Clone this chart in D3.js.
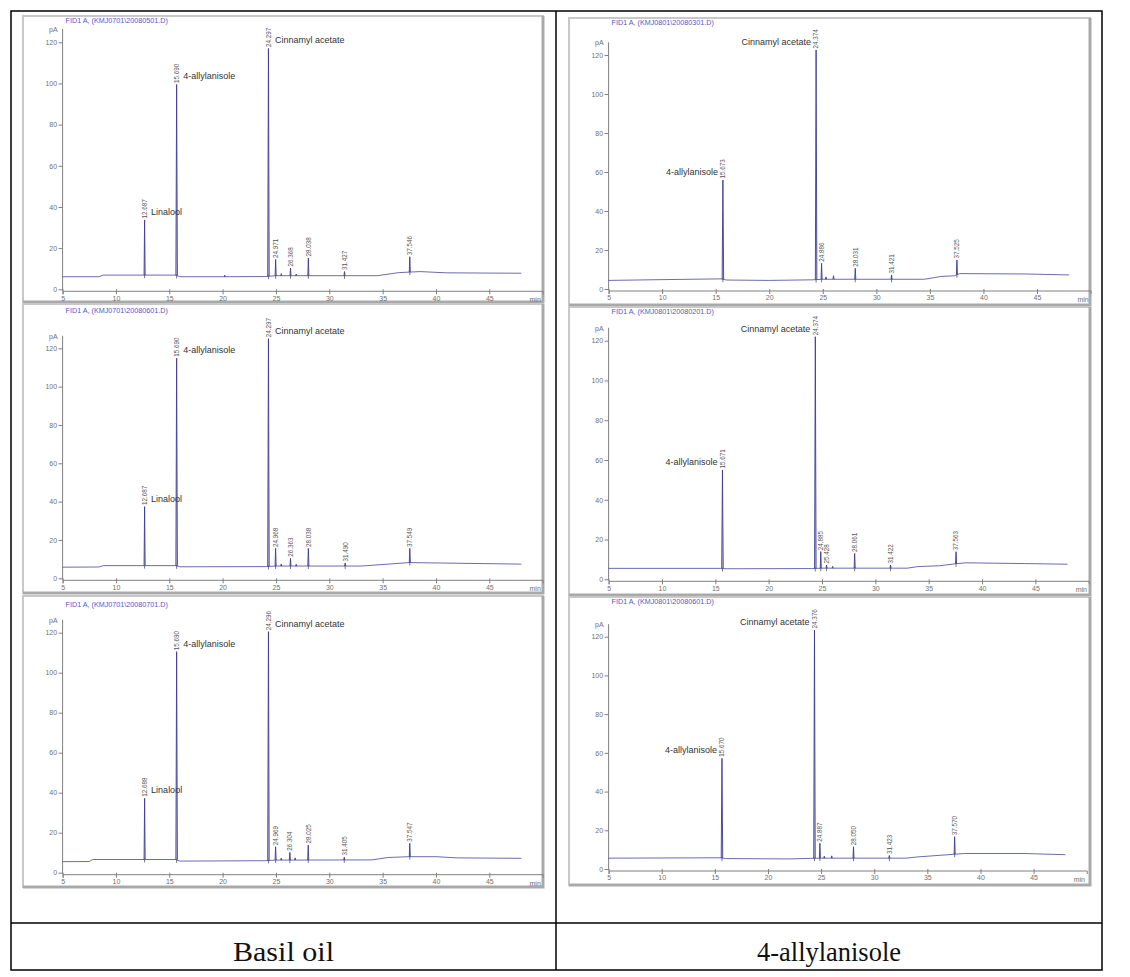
<!DOCTYPE html>
<html>
<head>
<meta charset="utf-8">
<script src="https://cdn.jsdelivr.net/npm/d3@7"></script>
<style>
  html, body { margin: 0; padding: 0; background: #fff; }
  svg { display: block; }
</style>
</head>
<body>
<svg id="chart" width="1130" height="977"></svg>
<script>
// ---------------- DATA ----------------
const columnLabels = ["Basil oil", "4-allylanisole"];
const xTicks = [5, 10, 15, 20, 25, 30, 35, 40, 45];
const yTicks = [0, 20, 40, 60, 80, 100, 120];
const xUnit = "min";
const yUnit = "pA";

const panelTitles = [
  "FID1 A, (KMJ0701\\20080501.D)",
  "FID1 A, (KMJ0701\\20080601.D)",
  "FID1 A, (KMJ0701\\20080701.D)",
  "FID1 A, (KMJ0801\\20080301.D)",
  "FID1 A, (KMJ0801\\20080201.D)",
  "FID1 A, (KMJ0801\\20080601.D)"
];

// baseline of each trace: [time (min), signal (pA)]
const baseline1 = [[5,6.1],[8.4,6.1],[8.8,6.9],[15.6,6.9],[16.0,6.1],[20.0,6.1],[24.0,6.2],[25,6.6],[34.5,6.6],[36.5,8.1],[38.5,8.6],[41,8.0],[48,7.8]];
const baseline2 = [[5,5.8],[8.4,5.9],[8.8,6.6],[15.6,6.6],[16.0,6.0],[24.0,6.1],[25,6.4],[33,6.4],[35.5,7.4],[37.5,8.2],[40,8.0],[48,7.4]];
const baseline3 = [[5,5.5],[7.5,5.6],[7.8,6.6],[15.6,6.6],[16.0,5.8],[24.0,6.0],[25,6.3],[34,6.4],[35.5,7.6],[37.5,8.0],[40,8.0],[42,7.4],[48,7.2]];
const baseline4 = [[5,4.4],[10,4.8],[15.5,5.2],[16,4.6],[20,4.4],[24,4.7],[25,5.0],[34.5,5.0],[36,6.4],[37.3,6.8],[37.8,7.9],[44,7.7],[48,7.2]];
const baseline5 = [[5,5.5],[15.5,5.5],[16,5.3],[24,5.4],[25,5.6],[33,5.6],[34,6.4],[36,6.8],[37.5,7.8],[38.5,8.3],[44,7.9],[48,7.6]];
const baseline6 = [[5,5.6],[15.5,5.8],[16,5.4],[22,5.2],[24,5.5],[25,5.6],[33,5.6],[34,6.2],[36,7.0],[37.5,7.6],[38.5,8.0],[44,8.0],[48,7.4]];

// peaks: [retention time (min), apex (pA), label]
const peaks1 = [[12.687,33.7,"12.687"],[15.690,99.5,"15.690"],[20.2,6.9,""],[24.297,117,"24.297"],[24.971,14.5,"24.971"],[25.5,7.6,""],[26.368,10.3,"26.368"],[26.9,7.4,""],[28.038,15.2,"28.038"],[31.427,8.6,"31.427"],[37.546,15.8,"37.546"]];
const peaks2 = [[12.687,37.4,"12.687"],[15.690,114.8,"15.690"],[24.297,125,"24.297"],[24.968,15.6,"24.968"],[25.5,7.5,""],[26.363,10.4,"26.363"],[26.9,7.3,""],[28.038,15.6,"28.038"],[31.490,8.0,"31.490"],[37.549,15.6,"37.549"]];
const peaks3 = [[12.688,37.2,"12.688"],[15.690,110.5,"15.690"],[24.296,120.5,"24.296"],[24.969,13,"24.969"],[25.5,7.3,""],[26.304,10.2,"26.304"],[26.8,7.4,""],[28.025,13.8,"28.025"],[31.405,7.8,"31.405"],[37.547,14.7,"37.547"]];
const peaks4 = [[15.673,55.9,"15.673"],[24.374,122.6,"24.374"],[24.886,13.2,"24.886"],[25.3,6.2,""],[26.0,6.8,""],[28.031,10.6,"28.031"],[31.421,7.2,"31.421"],[37.525,14.9,"37.525"]];
const peaks5 = [[15.671,55,"15.671"],[24.374,122,"24.374"],[24.885,13.9,"24.885"],[25.428,7.2,"25.428"],[26.0,6.5,""],[28.061,13,"28.061"],[31.422,7.2,"31.422"],[37.563,13.9,"37.563"]];
const peaks6 = [[15.670,57.2,"15.670"],[24.376,123.4,"24.376"],[24.887,13.3,"24.887"],[25.3,6.6,""],[26.0,6.8,""],[28.050,11.5,"28.050"],[31.423,7,"31.423"],[37.570,16.7,"37.570"]];

// compound names: [retention time of the peak, name]
const namesLeft = [[12.687,"Linalool"],[15.690,"4-allylanisole"],[24.297,"Cinnamyl acetate"]];
const namesLeft3 = [[12.688,"Linalool"],[15.690,"4-allylanisole"],[24.296,"Cinnamyl acetate"]];
const names4 = [[15.673,"4-allylanisole"],[24.374,"Cinnamyl acetate"]];
const names5 = [[15.671,"4-allylanisole"],[24.374,"Cinnamyl acetate"]];
const names6 = [[15.670,"4-allylanisole"],[24.376,"Cinnamyl acetate"]];

// ---------------- LAYOUT (positions only) ----------------
const table = { left: 11, right: 1102, top: 11, bottom: 970, mid: 556, split: 923 };
const panels = [
  { frame:[23,16,543,302],  x5:62.6,  x45:489.3,  y0:289.3, y120:42.3,  titleY:22.5, side:"left",  base:baseline1, peaks:peaks1, names:namesLeft },
  { frame:[23,304,543,593], x5:62.6,  x45:489.3,  y0:578.3, y120:348.3, titleY:313,  side:"left",  base:baseline2, peaks:peaks2, names:namesLeft },
  { frame:[23,596,543,887], x5:62.6,  x45:489.3,  y0:872.7, y120:632.7, titleY:607,  side:"left",  base:baseline3, peaks:peaks3, names:namesLeft3 },
  { frame:[569,18,1090,305],  x5:608.6, x45:1037,   y0:289,   y120:55,    titleY:24.5, side:"right", base:baseline4, peaks:peaks4, names:names4 },
  { frame:[569,307,1090,595], x5:608.6, x45:1035.4, y0:579.3, y120:340.7, titleY:314,  side:"right", base:baseline5, peaks:peaks5, names:names5 },
  { frame:[569,597,1090,885], x5:608.6, x45:1033.6, y0:869,   y120:636.7, titleY:604,  side:"right", base:baseline6, peaks:peaks6, names:names6 }
];

const svg = d3.select("#chart");
svg.append("rect").attr("width",1130).attr("height",977).attr("fill","#fff");

const traceColor = "#3c3c96";
const axisColor = "#808080";
const tickFont = "Liberation Sans, Arial, sans-serif";

panels.forEach((p, i) => {
  const [fx1, fy1, fx2, fy2] = p.frame;
  const g = svg.append("g");

  // frame (3D grey border)
  g.append("rect").attr("x", fx1).attr("y", fy1).attr("width", fx2 - fx1).attr("height", fy2 - fy1)
    .attr("fill", "#fff").attr("stroke", "#c8c8c8").attr("stroke-width", 2);
  g.append("path").attr("d", `M${fx2},${fy1} L${fx2},${fy2} L${fx1},${fy2}`)
    .attr("fill","none").attr("stroke","#a9a9a9").attr("stroke-width",3);

  const k = (p.x45 - p.x5) / 40;
  const x = d3.scaleLinear().domain([5, 50]).range([p.x5, p.x5 + 45 * k]);
  const y = d3.scaleLinear().domain([0, 120]).range([p.y0, p.y120]);
  const axisY = p.y0 + 1.5;

  // title
  g.append("text").attr("x", p.x5 + 3).attr("y", p.titleY)
    .attr("font-family", tickFont).attr("font-size", 7.2).attr("fill", "#5555c8")
    .text(panelTitles[i]);

  // y axis
  const yAxis = g.append("g").attr("transform", `translate(${p.x5},0)`);
  yAxis.call(d3.axisLeft(y).tickValues(d3.range(0, 125, 4)).tickSize(2).tickFormat(""));
  yAxis.call(d3.axisLeft(y).tickValues(yTicks).tickSize(4).tickPadding(1.5));
  yAxis.selectAll(".domain").remove();
  yAxis.selectAll("line").attr("stroke", axisColor);
  yAxis.selectAll("text").attr("font-family", tickFont).attr("font-size", 7).attr("fill", "#707070");
  g.append("line").attr("x1", p.x5).attr("x2", p.x5).attr("y1", axisY).attr("y2", y(126.5))
    .attr("stroke", axisColor);
  g.append("text").attr("x", p.x5 - 5).attr("y", y(126.5) + 3).attr("text-anchor","end")
    .attr("font-family", tickFont).attr("font-size", 7).attr("fill", "#707070").text(yUnit);

  // x axis
  const xAxis = g.append("g").attr("transform", `translate(0,${axisY})`);
  xAxis.call(d3.axisBottom(x).tickValues(d3.range(5, 50, 1)).tickSize(2).tickFormat(""));
  xAxis.call(d3.axisBottom(x).tickValues(xTicks).tickSize(3.5).tickPadding(1.5));
  xAxis.selectAll(".domain").attr("stroke", axisColor);
  xAxis.selectAll("line").attr("stroke", axisColor).attr("y1", -1.5);
  xAxis.selectAll("text").attr("font-family", tickFont).attr("font-size", 7).attr("fill", "#707070");
  g.append("text").attr("x", x(49.3)).attr("y", axisY + 11.5).attr("text-anchor","middle")
    .attr("font-family", tickFont).attr("font-size", 7).attr("fill", "#707070").text(xUnit);

  // baseline trace
  const baseAt = d3.scaleLinear().domain(p.base.map(d => d[0])).range(p.base.map(d => d[1]));
  const line = d3.line().x(d => x(d[0])).y(d => y(d[1]));
  g.append("path").datum(p.base).attr("d", line)
    .attr("fill","none").attr("stroke", traceColor).attr("stroke-width", 0.9).attr("opacity", 0.85);

  // peaks as narrow spikes from baseline
  p.peaks.forEach(pk => {
    const [t, h] = pk;
    const w = h > 50 ? 0.07 : 0.05;
    const b = baseAt(t);
    g.append("path").datum([[t - w, b], [t, h], [t + w, b]]).attr("d", line)
      .attr("fill", "#7070c0").attr("fill-opacity", 0.35)
      .attr("stroke", traceColor).attr("stroke-width", 0.9).attr("stroke-linejoin","miter");
    if (pk[2]) {
      g.append("line").attr("x1", x(t)).attr("x2", x(t)).attr("y1", y(b) - 1).attr("y2", y(b) + 3)
        .attr("stroke", "#555").attr("stroke-width", 0.8);
      g.append("text")
        .attr("transform", `translate(${x(t) + 2.4},${y(h) - 1.5}) rotate(-90)`)
        .attr("font-family", tickFont).attr("font-size", 6.3).attr("fill", "#555")
        .text(pk[2]);
    }
  });

  // compound names
  p.names.forEach(nm => {
    const pk = p.peaks.find(d => d[0] === nm[0]);
    const px = x(pk[0]), py = y(pk[1]) - 5;
    g.append("text")
      .attr("x", p.side === "left" ? px + 6.5 : px - 5)
      .attr("y", py)
      .attr("text-anchor", p.side === "left" ? "start" : "end")
      .attr("font-family", tickFont).attr("font-size", 9).attr("fill", "#333")
      .text(nm[1]);
  });
});

// ---------------- TABLE ----------------
const tg = svg.append("g").attr("stroke", "#000").attr("stroke-width", 1.5);
tg.append("rect").attr("x", table.left).attr("y", table.top)
  .attr("width", table.right - table.left).attr("height", table.bottom - table.top).attr("fill", "none");
tg.append("line").attr("x1", table.mid).attr("x2", table.mid).attr("y1", table.top).attr("y2", table.bottom);
tg.append("line").attr("x1", table.left).attr("x2", table.right).attr("y1", table.split).attr("y2", table.split);

const labelWidths = [101, 144];
columnLabels.forEach((lab, i) => {
  const cx = i === 0 ? (table.left + table.mid) / 2 : (table.mid + table.right) / 2;
  svg.append("text").attr("x", cx).attr("y", 961).attr("text-anchor", "middle")
    .attr("font-family", "Liberation Serif, DejaVu Serif, serif").attr("font-size", 27)
    .attr("fill", "#111")
    .attr("textLength", labelWidths[i]).attr("lengthAdjust", "spacingAndGlyphs")
    .text(lab);
});
</script>
</body>
</html>
